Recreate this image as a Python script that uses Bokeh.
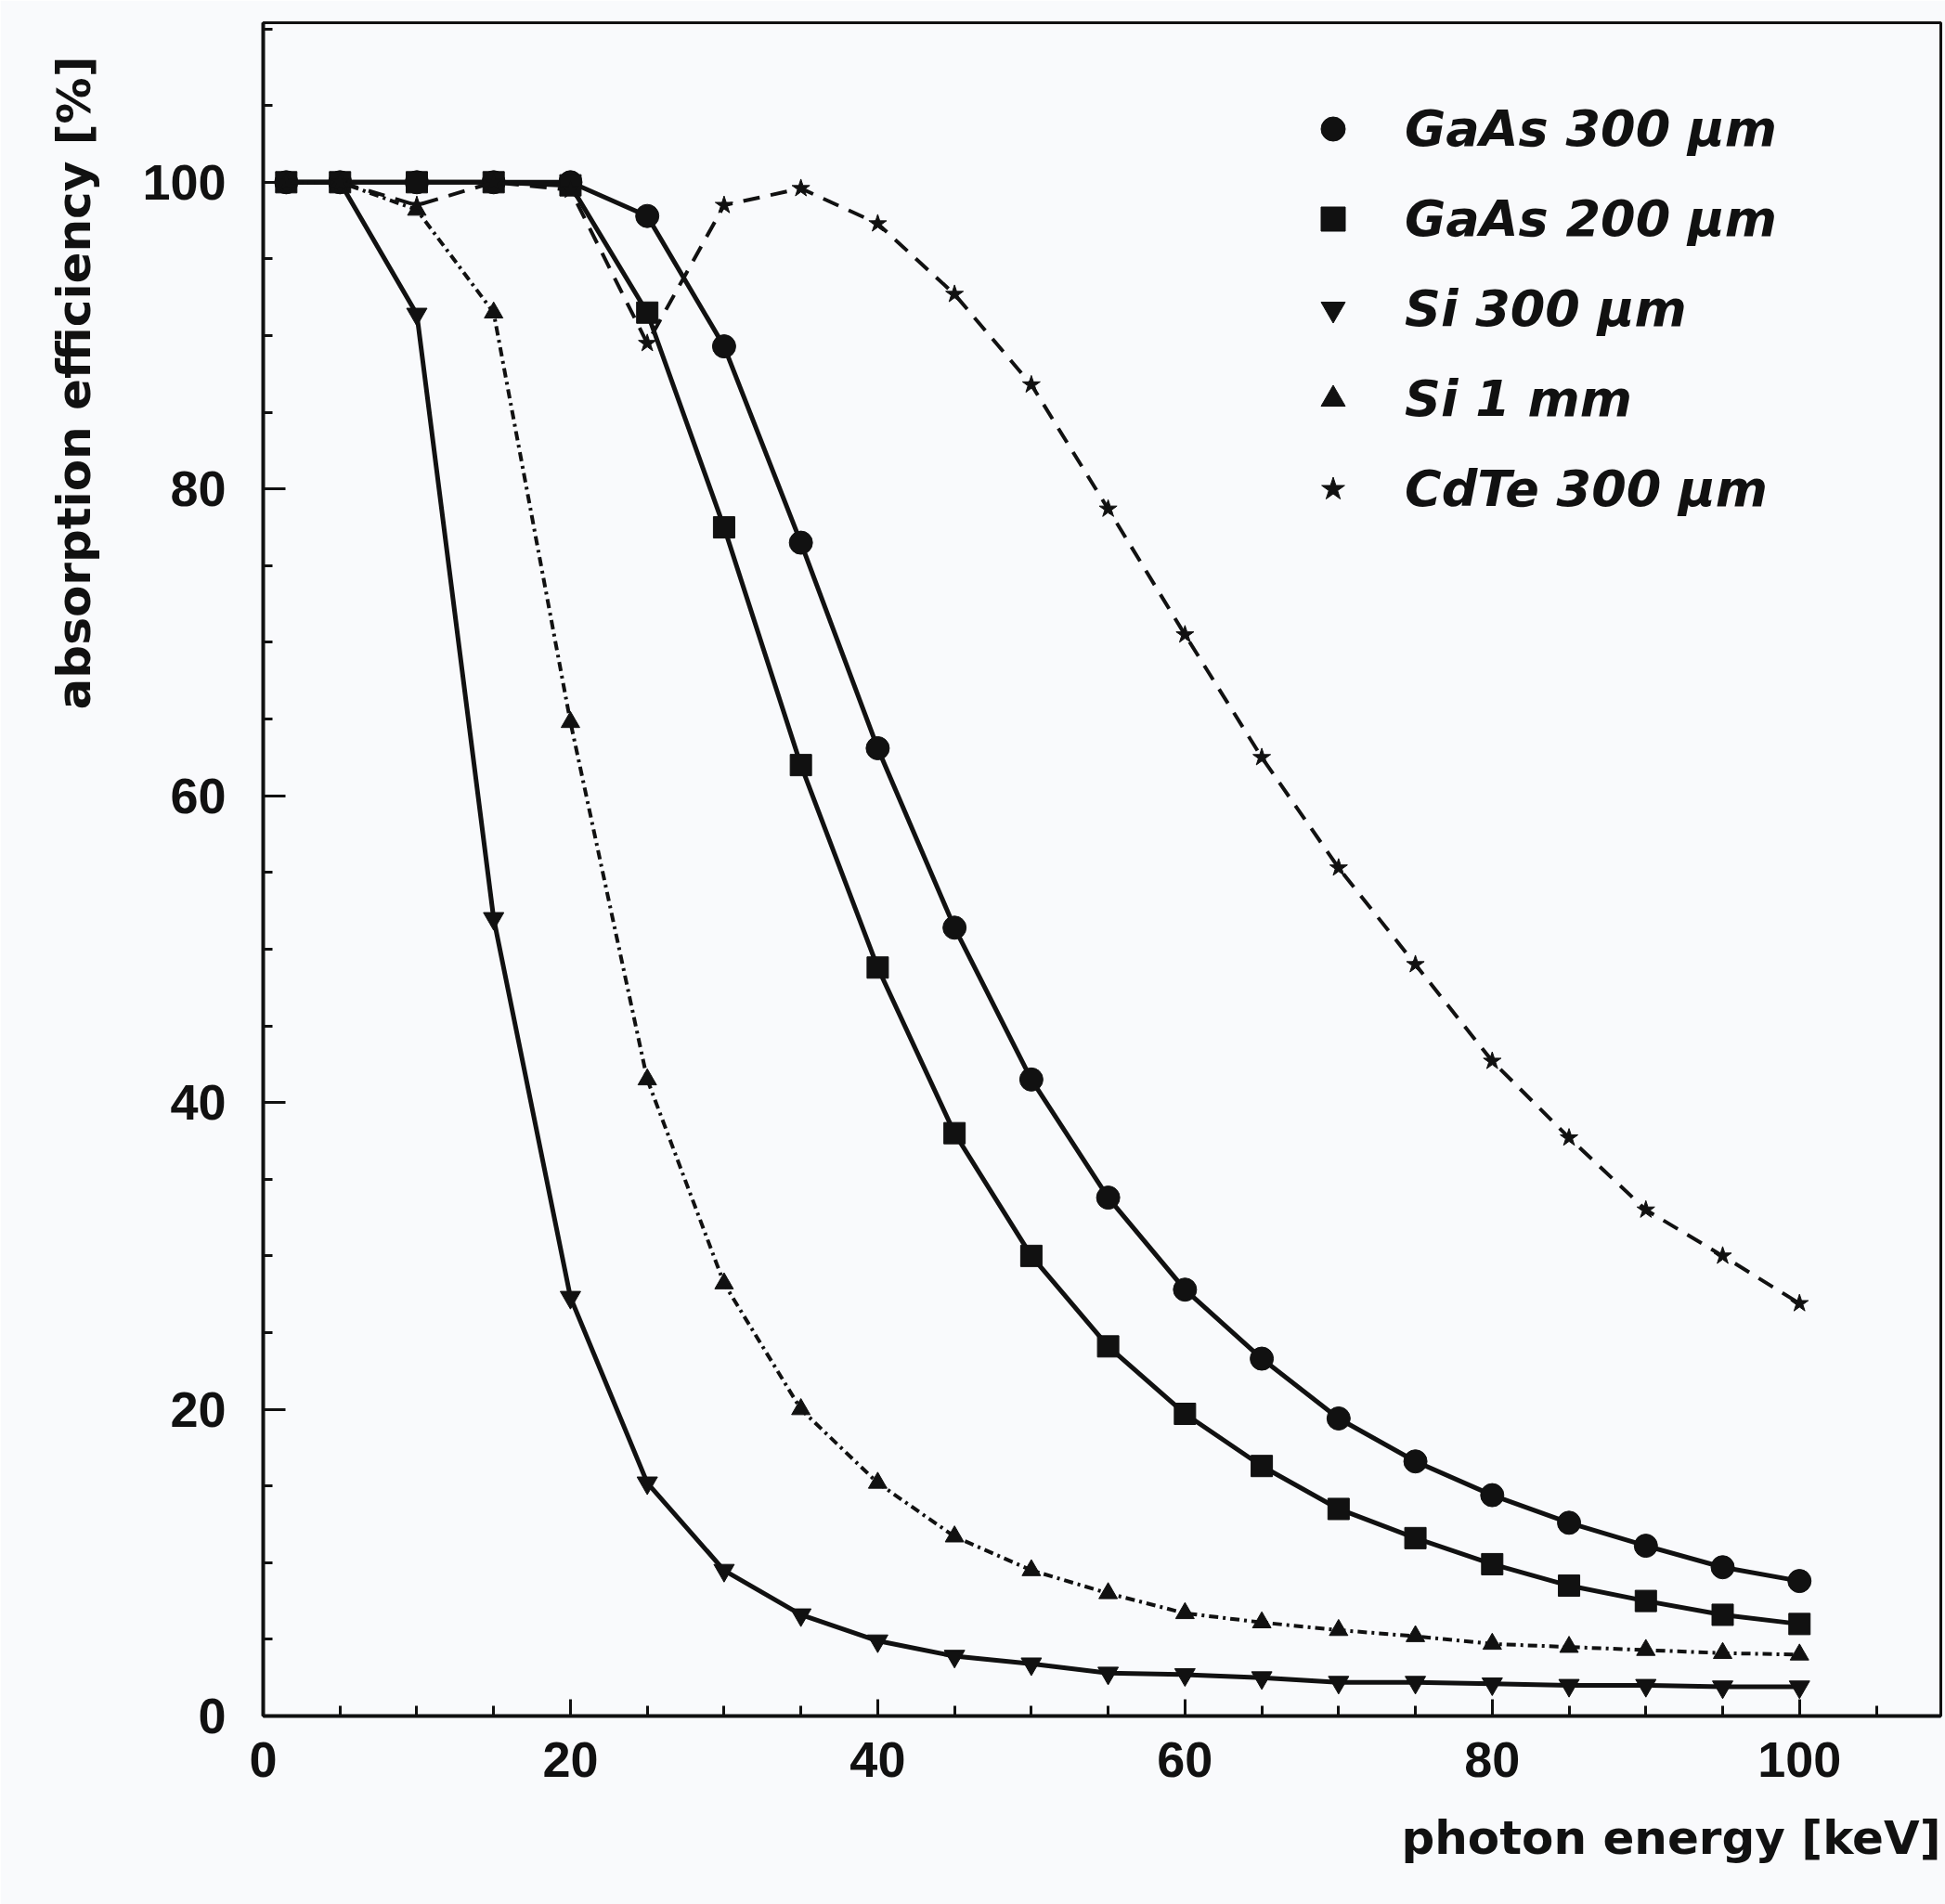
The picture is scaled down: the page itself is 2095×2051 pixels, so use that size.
from bokeh.plotting import figure
from bokeh.models import (Range1d, SingleIntervalTicker, Legend, LegendItem, Title)
from bokeh.embed import file_html
from bokeh.resources import INLINE

# ---- data ----
energy = [1.5, 5, 10, 15, 20, 25, 30, 35, 40, 45, 50, 55, 60, 65, 70, 75, 80, 85, 90, 95, 100]

gaas_300 = [100, 100, 100, 100, 100, 97.8, 89.3, 76.5, 63.1, 51.4, 41.5, 33.8, 27.8, 23.3,
            19.4, 16.6, 14.4, 12.6, 11.1, 9.7, 8.8]
gaas_200 = [100, 100, 100, 100, 99.8, 91.5, 77.5, 62.0, 48.8, 38.0, 30.0, 24.1, 19.7, 16.3,
            13.5, 11.6, 9.9, 8.5, 7.5, 6.6, 6.0]
si_300 = [100, 100, 91.4, 52.0, 27.3, 15.2, 9.5, 6.6, 4.9, 3.9, 3.4, 2.8, 2.7, 2.5,
          2.2, 2.2, 2.1, 2.0, 2.0, 1.9, 1.9]
si_1mm = [100, 100, 98.2, 91.5, 64.8, 41.5, 28.2, 20.0, 15.2, 11.7, 9.5, 8.0, 6.7, 6.1,
          5.6, 5.2, 4.7, 4.5, 4.3, 4.1, 4.0]
cdte_300 = [100, 100, 98.5, 100, 99.5, 89.5, 98.5, 99.6, 97.3, 92.7, 86.8, 78.7, 70.5, 62.5,
            55.3, 49.0, 42.7, 37.7, 33.0, 30.0, 26.9]

labels = ["GaAs 300 µm", "GaAs 200 µm", "Si 300 µm", "Si 1 mm", "CdTe 300 µm"]
series = [gaas_300, gaas_200, si_300, si_1mm, cdte_300]
markers = ["circle", "square", "inverted_triangle", "triangle", "star"]
marker_sizes = [25, 23, 22, 20, 20]
dashes = ["solid", "solid", "solid", "10 5 3 5", "18 12"]
widths = [5, 5, 5, 4, 4]

x_label = "photon energy [keV]"
y_label = "absorption efficiency [%]"

INK = "#111111"
BG = "#f9fafc"

p = figure(width=2095, height=2051, output_backend="svg", toolbar_location=None,
           x_range=Range1d(0, 109.2), y_range=Range1d(0, 110.4),
           min_border_left=283, min_border_right=5, min_border_top=24, min_border_bottom=203,
           background_fill_color=BG, border_fill_color=BG)

p.xgrid.visible = False
p.ygrid.visible = False
p.outline_line_color = INK
p.outline_line_width = 3

for ax in (p.xaxis[0], p.yaxis[0]):
    ax.ticker = SingleIntervalTicker(interval=20, num_minor_ticks=4)
    ax.axis_line_color = INK
    ax.axis_line_width = 4
    ax.major_tick_line_color = INK
    ax.minor_tick_line_color = INK
    ax.major_tick_line_width = 3
    ax.minor_tick_line_width = 3
    ax.major_tick_out = 0
    ax.minor_tick_out = 0
    ax.major_label_text_font = "Liberation Sans"
    ax.major_label_text_font_style = "bold"
    ax.major_label_text_font_size = "54px"
    ax.major_label_text_color = INK

p.xaxis.major_tick_in = 18
p.xaxis.minor_tick_in = 11
p.yaxis.major_tick_in = 24
p.yaxis.minor_tick_in = 10
p.xaxis.major_label_standoff = 28
p.yaxis.major_label_standoff = 40

items = []
for lab, ys, mk, ms, dash, w in zip(labels, series, markers, marker_sizes, dashes, widths):
    p.line(energy, ys, line_color=INK, line_width=w, line_dash=dash)
    r = p.scatter(energy, ys, marker=mk, size=ms, fill_color=INK, line_color=INK)
    items.append(LegendItem(label=lab, renderers=[r]))

legend = Legend(items=items, location=(1120, 1289), glyph_width=65, glyph_height=65,
                label_height=65, label_standoff=45, spacing=32, padding=0, margin=0,
                border_line_alpha=0, background_fill_alpha=0,
                label_text_font="DejaVu Sans", label_text_font_style="bold italic",
                label_text_font_size="54px", label_text_color=INK)
p.add_layout(legend, "center")

xt = Title(text=x_label, align="right", text_font="DejaVu Sans", text_font_style="bold",
           text_font_size="50px", text_color=INK, standoff=65)
p.add_layout(xt, "below")
yt = Title(text=y_label, align="right", offset=36, text_font="DejaVu Sans",
           text_font_style="bold", text_font_size="50px", text_color=INK, standoff=83)
p.add_layout(yt, "left")

open("out.html", "w").write(file_html(p, INLINE))
